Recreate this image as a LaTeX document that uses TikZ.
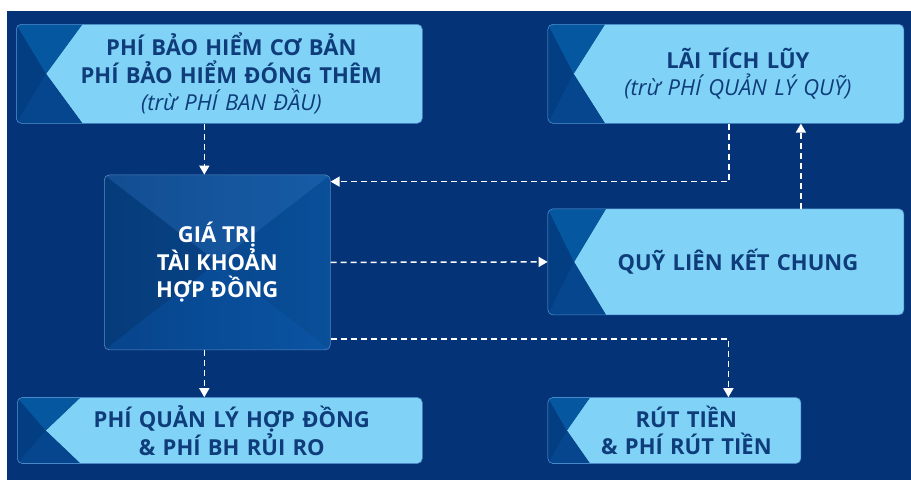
\documentclass[tikz,border=0pt]{standalone}
\usepackage{fontspec}
\setmainfont{Open Sans}
\usepackage{xcolor}
\usetikzlibrary{positioning, arrows.meta, calc}

\definecolor{navybg}{HTML}{053378}
\definecolor{skyfill}{HTML}{80D3F6}
\definecolor{skyedge}{HTML}{4A88C8}
\definecolor{inktext}{HTML}{0F3C7A}
\definecolor{notchlight}{HTML}{0558A0}
\definecolor{notchmid}{HTML}{033D82}
\definecolor{notchdark}{HTML}{05468E}
\definecolor{coreleft}{HTML}{07448C}
\definecolor{coreright}{HTML}{0A54A2}
\definecolor{coreedge}{HTML}{5A8AC2}

\tikzset{
  lightbox/.style n args={3}{rectangle, rounded corners=5pt, fill=skyfill, draw=skyedge, line width=0.6pt,
    minimum width=#1, minimum height=#2, inner sep=0pt, text width=#1-10pt, align=center, text=inktext,
    font=\bfseries\fontsize{22}{27.5}\selectfont,
    execute at begin node={\leftskip=24pt plus 1fil\rightskip=0pt plus 1fil\parfillskip=0pt},
    path picture={
      \fill[notchmid, sharp corners] (path picture bounding box.north west) -- ++(#3,0)
        -- ($(path picture bounding box.west)+(0.45*#3,0)$) -- ($(path picture bounding box.south west)+(#3,0)$)
        -- (path picture bounding box.south west) -- cycle;
      \fill[notchlight, sharp corners] (path picture bounding box.north west) -- ++(#3,0)
        -- ($(path picture bounding box.west)+(0.45*#3,0)$) -- cycle;
      \fill[notchdark, sharp corners] (path picture bounding box.south west) -- ++(#3,0)
        -- ($(path picture bounding box.west)+(0.45*#3,0)$) -- cycle;
    }},
  corebox/.style={rectangle, rounded corners=5pt, left color=coreleft, right color=coreright, draw=coreedge,
    line width=0.6pt, minimum width=226pt, minimum height=175pt, align=center, text=white,
    font=\bfseries\fontsize{22}{27.5}\selectfont,
    path picture={
      \fill[black, opacity=0.12, sharp corners] (path picture bounding box.north west) -- (path picture bounding box.center) -- (path picture bounding box.south west) -- cycle;
      \fill[white, opacity=0.05, sharp corners] (path picture bounding box.north west) -- (path picture bounding box.center) -- (path picture bounding box.north east) -- cycle;
      \fill[black, opacity=0.05, sharp corners] (path picture bounding box.north east) -- (path picture bounding box.center) -- (path picture bounding box.south east) -- cycle;
    }},
  flow/.style={draw=white, line width=1.5pt, dash pattern=on 6pt off 4pt, -{Triangle[width=10pt, length=9pt]}}
}

\begin{document}
\begin{tikzpicture}[x=1pt, y=-1pt]
    \useasboundingbox (0,0) rectangle (911,482);
    \fill[navybg] (7,11) rectangle (911,480);
    % Boxes
    \node[lightbox={406pt}{99pt}{66}, anchor=north west] (premium) at (16,24) {PHÍ BẢO HIỂM CƠ BẢN\\PHÍ BẢO HIỂM ĐÓNG THÊM\\{\mdseries\itshape (trừ PHÍ BAN ĐẦU)}};
    \node[lightbox={356pt}{99pt}{57}, right=125pt of premium.north east, anchor=north west] (interest) {LÃI TÍCH LŨY\\{\mdseries\itshape (trừ PHÍ QUẢN LÝ QUỸ)}};
    \node[corebox, below=51pt of premium.south west, anchor=north west, xshift=88pt] (account) {GIÁ TRỊ\\TÀI KHOẢN\\HỢP ĐỒNG};
    \node[lightbox={356pt}{106pt}{58}, below=85pt of interest.south west, anchor=north west] (fund) {QUỸ LIÊN KẾT CHUNG};
    \node[lightbox={405pt}{66pt}{63}, below=47pt of account.south west, anchor=north west, xshift=-87pt] (charges) {PHÍ QUẢN LÝ HỢP ĐỒNG\\\& PHÍ BH RỦI RO};
    \node[lightbox={253pt}{66pt}{42}, below=82pt of fund.south west, anchor=north west] (withdraw) {RÚT TIỀN\\\& PHÍ RÚT TIỀN};
    % Arrows between boxes
    \draw[flow] ([xshift=-13pt]account.north |- premium.south) -- ([xshift=-13pt]account.north);
    \draw[flow] ([xshift=3pt]interest.south) |- ([yshift=-7pt]account.north east);
    \draw[flow] ([xshift=75pt]fund.north) -- ([xshift=75pt]interest.south);
    \draw[flow] (account.east) -- (fund.west);
    \draw[flow] ([yshift=11pt]account.south east) -| ([xshift=54pt]withdraw.north);
    \draw[flow] ([xshift=-13pt]account.south) -- ([xshift=-13pt]account.south |- charges.north);
\end{tikzpicture}
\end{document}
